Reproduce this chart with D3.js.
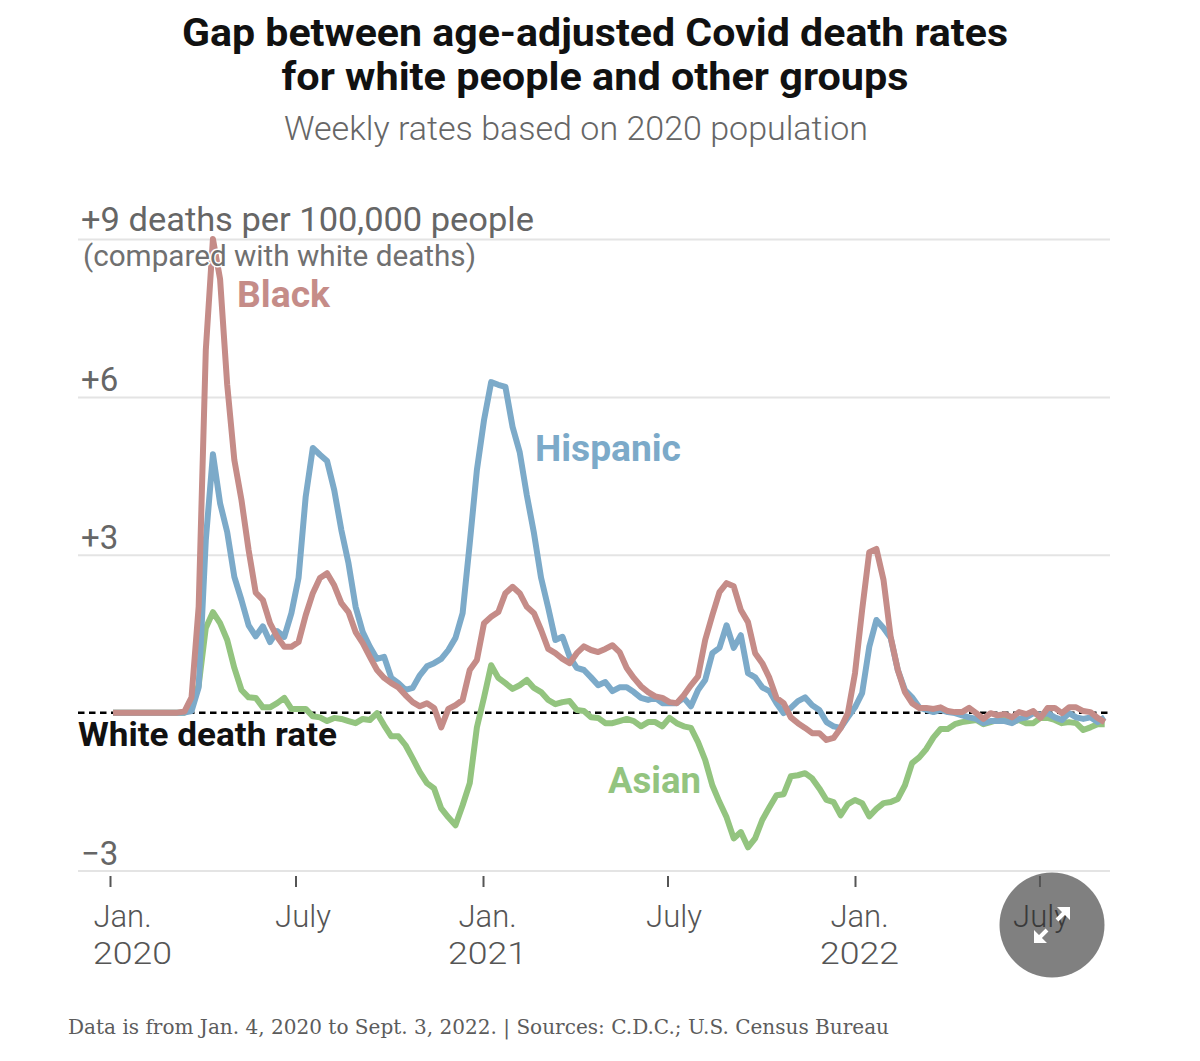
<!DOCTYPE html>
<html>
<head>
<meta charset="utf-8">
<style>
  body { margin: 0; background: #fff; }
  text { font-family: Roboto, sans-serif; }
  .ax path { display: none; }
  .lab { font-weight: 700; font-size: 37px; }
</style>
<script src="https://d3js.org/d3.v7.min.js"></script>
</head>
<body>
<div id="chart"></div>
<script>
var black = [0,0,0,0,0,0,0,0,0,0,.02,.29,2.01,6.89,9.00,8.24,6.23,4.80,4.04,3.09,2.28,2.14,1.70,1.44,1.25,1.25,1.34,1.85,2.27,2.56,2.65,2.42,2.08,1.91,1.53,1.32,1.06,.81,.66,.56,.48,.33,.20,.12,.18,.09,-.28,.07,.14,.24,.81,1.00,1.70,1.82,1.91,2.27,2.39,2.27,2.01,1.89,1.57,1.21,1.13,1.02,.94,1.13,1.26,1.19,1.15,1.21,1.28,1.15,.85,.66,.50,.39,.31,.28,.20,.18,.33,.52,.69,1.38,1.85,2.29,2.46,2.40,1.95,1.72,1.13,.94,.66,.28,.18,-.09,-.20,-.29,-.39,-.39,-.52,-.48,-.29,-.01,.75,1.95,3.05,3.11,2.52,1.44,.81,.39,.18,.09,.09,.07,.10,.03,.01,.01,.09,-.01,-.12,-.01,-.05,-.03,-.09,.01,-.03,.03,-.10,.09,.09,-.01,.10,.10,.03,.01,-.10,-.18];
var hispanic = [0,0,0,0,0,0,0,0,0,0,0,.03,.48,3.28,4.91,3.98,3.43,2.58,2.14,1.66,1.45,1.64,1.34,1.55,1.44,1.89,2.56,4.10,5.03,4.90,4.78,4.23,3.47,2.84,2.01,1.53,1.25,1.02,1.06,.66,.56,.43,.47,.71,.88,.94,1.02,1.19,1.42,1.89,3.22,4.61,5.56,6.28,6.23,6.19,5.43,4.95,4.13,3.41,2.56,1.99,1.38,1.44,1.06,.85,.81,.67,.52,.58,.41,.48,.48,.39,.28,.24,.28,.18,.18,.18,.28,.12,.43,.62,1.13,1.23,1.66,1.23,1.47,.75,.67,.48,.41,.18,-.01,.09,.22,.29,.14,.05,-.18,-.26,-.29,-.09,.10,.37,1.25,1.76,1.61,1.42,.81,.43,.29,.10,.05,.01,.05,.01,-.01,-.05,-.09,-.12,-.20,-.16,-.16,-.16,-.20,-.12,-.09,-.01,-.05,-.01,-.09,-.14,-.01,-.09,-.12,-.09,-.18,-.09];
var asian = [0,0,0,0,0,0,0,0,0,0,0,.09,.52,1.61,1.91,1.70,1.38,.85,.43,.29,.28,.10,.10,.18,.28,.07,.07,.07,-.07,-.09,-.16,-.10,-.12,-.16,-.20,-.12,-.14,-.01,-.24,-.45,-.45,-.62,-.87,-1.13,-1.34,-1.44,-1.82,-1.99,-2.14,-1.76,-1.34,-.28,.29,.90,.66,.56,.45,.52,.62,.47,.39,.24,.16,.20,.22,.05,.03,-.09,-.10,-.20,-.20,-.16,-.12,-.16,-.26,-.18,-.18,-.26,-.10,-.20,-.26,-.29,-.56,-.90,-1.38,-1.70,-1.99,-2.39,-2.27,-2.56,-2.39,-2.04,-1.80,-1.57,-1.55,-1.21,-1.19,-1.15,-1.25,-1.44,-1.66,-1.70,-1.95,-1.74,-1.66,-1.72,-1.97,-1.83,-1.72,-1.70,-1.64,-1.38,-.96,-.85,-.69,-.47,-.31,-.31,-.22,-.18,-.16,-.14,-.22,-.18,-.14,-.14,-.18,-.14,-.20,-.20,-.10,-.10,-.14,-.20,-.18,-.20,-.33,-.28,-.22,-.22];
var yTicks = [-3, 3, 6, 9];
var yLabels = ["\u22123", "+3", "+6", "+9 deaths per 100,000 people"];
var xTicks = ["2020-01-01", "2020-07-01", "2021-01-01", "2021-07-01", "2022-01-01", "2022-07-01"];
var xMonths = ["Jan.", "July", "Jan.", "July", "Jan.", "July"];
var xYears = ["2020", "", "2021", "", "2022", ""];

var W = 1200, H = 1061;
var parseDate = d3.utcParse("%Y-%m-%d");
var weeks = d3.utcDay.range(parseDate("2020-01-04"), parseDate("2022-09-04"), 7);

var svg = d3.select("#chart").append("svg").attr("width", W).attr("height", H);

var x = d3.scaleUtc().domain([parseDate("2020-01-01"), parseDate("2022-01-01")]).range([110, 855]);
var y = d3.scaleLinear().domain([-3, 9]).range([870.5, 239]);

// stretch a text to the width it has in the picture
function fit(sel, w) {
  return sel.attr("textLength", w).attr("lengthAdjust", "spacingAndGlyphs");
}

// title block
fit(svg.append("text").attr("x", 595).attr("y", 46).attr("text-anchor", "middle")
  .style("font-size", "38px").style("font-weight", 700).attr("fill", "#111")
  .text("Gap between age-adjusted Covid death rates"), 826);
fit(svg.append("text").attr("x", 595).attr("y", 90).attr("text-anchor", "middle")
  .style("font-size", "38px").style("font-weight", 700).attr("fill", "#111")
  .text("for white people and other groups"), 627);
fit(svg.append("text").attr("x", 576).attr("y", 140).attr("text-anchor", "middle")
  .style("font-size", "33px").style("font-weight", 300).attr("fill", "#666")
  .text("Weekly rates based on 2020 population"), 584);

// y axis
var yAxis = svg.append("g").attr("class", "ax")
  .attr("transform", "translate(78,0)")
  .call(d3.axisRight(y).tickValues(yTicks).tickSize(1032)
    .tickFormat(function(d, i) { return yLabels[i]; }));
yAxis.selectAll("line").attr("stroke", "#e4e4e4").attr("stroke-width", 2);
yAxis.selectAll("text")
  .attr("x", 3).attr("dy", function(d) { return d == 9 ? -9 : -6; }).attr("text-anchor", "start")
  .style("font-size", "33px").style("font-weight", 400).attr("fill", "#666");
fit(yAxis.selectAll("text").filter(function(d) { return d == 9; }), 453);

// button disc goes under the last tick label, its arrows over it
svg.append("circle").attr("cx", 1052).attr("cy", 925).attr("r", 52.5).attr("fill", "#808080");

// x axis
var xAxis = svg.append("g").attr("class", "ax")
  .attr("transform", "translate(0,876)")
  .call(d3.axisBottom(x).tickValues(xTicks.map(parseDate)).tickSize(11).tickFormat(""));
xAxis.selectAll("line").attr("stroke", "#555").attr("stroke-width", 2);

xAxis.selectAll(".tick").each(function(d, i) {
  var g = d3.select(this);
  var off = [12, 7, 4, 6, 4, 1][i];
  g.select("text").remove();
  g.append("text").attr("x", off).attr("y", 51).attr("text-anchor", "middle")
    .style("font-size", "31px").style("font-weight", 300).attr("fill", i == 5 ? "#3a3a3a" : "#555").text(xMonths[i]);
  if (xYears[i]) {
    fit(g.append("text").attr("x", i == 0 ? 22 : 4).attr("y", 88).attr("text-anchor", "middle")
      .style("font-size", "31px").style("font-weight", 300).attr("fill", "#555").text(xYears[i]), 79);
  }
});

// zero line
svg.append("line").attr("x1", 78).attr("x2", 1110).attr("y1", y(0)).attr("y2", y(0))
  .attr("stroke", "#000").attr("stroke-width", 2.5).attr("stroke-dasharray", "6.5 4.5");

var line = d3.line().x(function(d, i) { return x(weeks[i]); }).y(function(d) { return y(d); });

function addLine(values, col) {
  svg.append("path").datum(values)
    .attr("fill", "none").attr("stroke", col).attr("stroke-width", 6)
    .attr("stroke-linejoin", "round").attr("d", line);
}
addLine(asian, "#93c47f");
addLine(hispanic, "#7caac9");
addLine(black, "#c58c88");

// note under the top label, with a halo over the line
fit(svg.append("text").attr("x", 83).attr("y", 266)
  .style("font-size", "29px").style("font-weight", 400).attr("fill", "#707070")
  .attr("stroke", "#fff").attr("stroke-width", 3).style("paint-order", "stroke")
  .text("(compared with white deaths)"), 393);

fit(svg.append("text").attr("class", "lab").attr("x", 237).attr("y", 307).attr("fill", "#c58c88").text("Black"), 93);
fit(svg.append("text").attr("class", "lab").attr("x", 535).attr("y", 461).attr("fill", "#7caac9").text("Hispanic"), 146);
fit(svg.append("text").attr("class", "lab").attr("x", 608).attr("y", 793).attr("fill", "#93c47f").text("Asian"), 93);
fit(svg.append("text").attr("class", "lab").attr("x", 78).attr("y", 746).attr("fill", "#111").style("font-size", "33px").text("White death rate"), 259);

// source
fit(svg.append("text").attr("x", 68).attr("y", 1034)
  .style("font-family", "'DejaVu Serif', serif").style("font-size", "20px").attr("fill", "#5c5c5c")
  .text("Data is from Jan. 4, 2020 to Sept. 3, 2022. | Sources: C.D.C.; U.S. Census Bureau"), 821);

// arrows of the button
var btn = svg.append("g").attr("transform", "translate(1052,925)");
btn.append("path").attr("fill", "none").attr("stroke", "#fff").attr("stroke-width", 4)
  .attr("d", "M-15,15L-5,5M5,-5L15,-15");
btn.append("path").attr("fill", "#fff").attr("d", "M18,-18L18,-5L5,-18Z M-18,18L-18,5L-5,18Z");
</script>
</body>
</html>
